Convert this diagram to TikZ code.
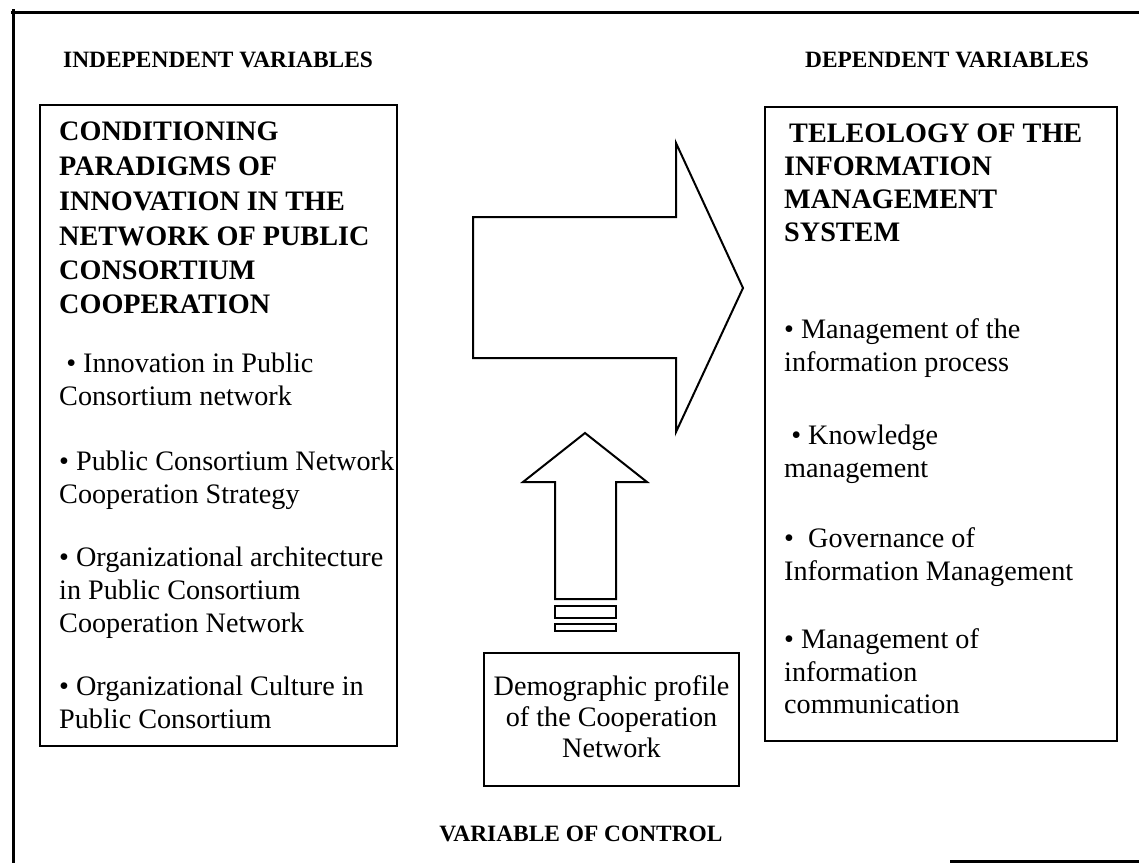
\documentclass[tikz,border=0pt]{standalone}
\usepackage{fontspec}
\setmainfont{Liberation Serif}
\newcommand\mytl[4]{\node[txt,anchor=base west] (#1) at (#2,#3) {#4};}
\begin{document}
\begin{tikzpicture}[x=1pt,y=-1pt,
  txt/.style={inner sep=0pt,font=\fontsize{28.2}{33}\selectfont},
  ttl/.style={inner sep=0pt,font=\fontsize{28.2}{33}\selectfont\bfseries},
  hdr/.style={inner sep=0pt,font=\fontsize{23.4}{27}\selectfont\bfseries},
  frame/.style={line width=3pt},
  boxline/.style={line width=2.6pt},
  arrowshape/.style={line width=2pt,line join=miter}]
\useasboundingbox (0,0) rectangle (1139,863);
% outer frame
\coordinate (ftl) at (13,9);
\coordinate (fbl) at (13,863);
\coordinate (ftop) at (11,12);
\coordinate (ftr) at (1139,12);
\coordinate (fbs) at (950,861);
\coordinate (fbe) at (1139,861);
\draw[frame] (ftl) -- (fbl);
\draw[frame] (ftop) -- (ftr);
\draw[frame] (fbs) -- (fbe);
% headers
\node[hdr,anchor=base west] (hind) at (63,67) {INDEPENDENT VARIABLES};
\node[hdr,anchor=base east] (hdep) at (1089,67) {DEPENDENT VARIABLES};
\node[hdr,anchor=base] (hctl) at (581,841) {VARIABLE OF CONTROL};
% boxes
\draw[boxline] (40,105) rectangle (397,746);
\draw[boxline] (765,107) rectangle (1117,741);
\draw[boxline] (484,653) rectangle (739,786);
% left box text
\node[ttl,anchor=base west] (t1) at (59,140) {CONDITIONING};
\node[ttl,anchor=base west] (t2) at (59,175) {PARADIGMS OF};
\node[ttl,anchor=base west] (t3) at (59,210) {INNOVATION IN THE};
\node[ttl,anchor=base west] (t4) at (59,245) {NETWORK OF PUBLIC};
\node[ttl,anchor=base west] (t5) at (59,279) {CONSORTIUM};
\node[ttl,anchor=base west] (t6) at (59,313) {COOPERATION};
\mytl{a1}{59}{372}{\ • Innovation in Public}
\mytl{a2}{59}{405}{Consortium network}
\mytl{b1}{59}{470}{• Public Consortium Network}
\mytl{b2}{59}{503}{Cooperation Strategy}
\mytl{c1}{59}{566}{• Organizational architecture}
\mytl{c2}{59}{599}{in Public Consortium}
\mytl{c3}{59}{632}{Cooperation Network}
\mytl{d1}{59}{695}{• Organizational Culture in}
\mytl{d2}{59}{728}{Public Consortium}
% right box text
\node[ttl,anchor=base west] (r1) at (789,142) {TELEOLOGY OF THE};
\node[ttl,anchor=base west] (r2) at (784,175) {INFORMATION};
\node[ttl,anchor=base west] (r3) at (784,208) {MANAGEMENT};
\node[ttl,anchor=base west] (r4) at (784,241) {SYSTEM};
\mytl{e1}{784}{338}{• Management of the}
\mytl{e2}{784}{371}{information process}
\mytl{f1}{784}{444}{\ • Knowledge}
\mytl{f2}{784}{477}{management}
\mytl{g1}{784}{547}{•\ \ Governance of}
\mytl{g2}{784}{580}{Information Management}
\mytl{h1}{784}{648}{• Management of}
\mytl{h2}{784}{681}{information}
\mytl{h3}{784}{713}{communication}
% bottom box text
\node[txt,anchor=base] (m1) at (611.5,695) {Demographic profile};
\node[txt,anchor=base] (m2) at (611.5,726) {of the Cooperation};
\node[txt,anchor=base] (m3) at (611.5,757) {Network};
% big right arrow
\draw[arrowshape] (473,217) -- (676,217) -- (676,143) -- (743,288) -- (676,432) -- (676,358) -- (473,358) -- cycle;
% up arrow
\draw[arrowshape] (555,599) -- (555,482) -- (523,482) -- (585,433) -- (647,482) -- (616,482) -- (616,599) -- cycle;
\draw[arrowshape] (555,606) rectangle (616,618);
\draw[arrowshape] (555,624) rectangle (616,631);
\end{tikzpicture}
\end{document}
